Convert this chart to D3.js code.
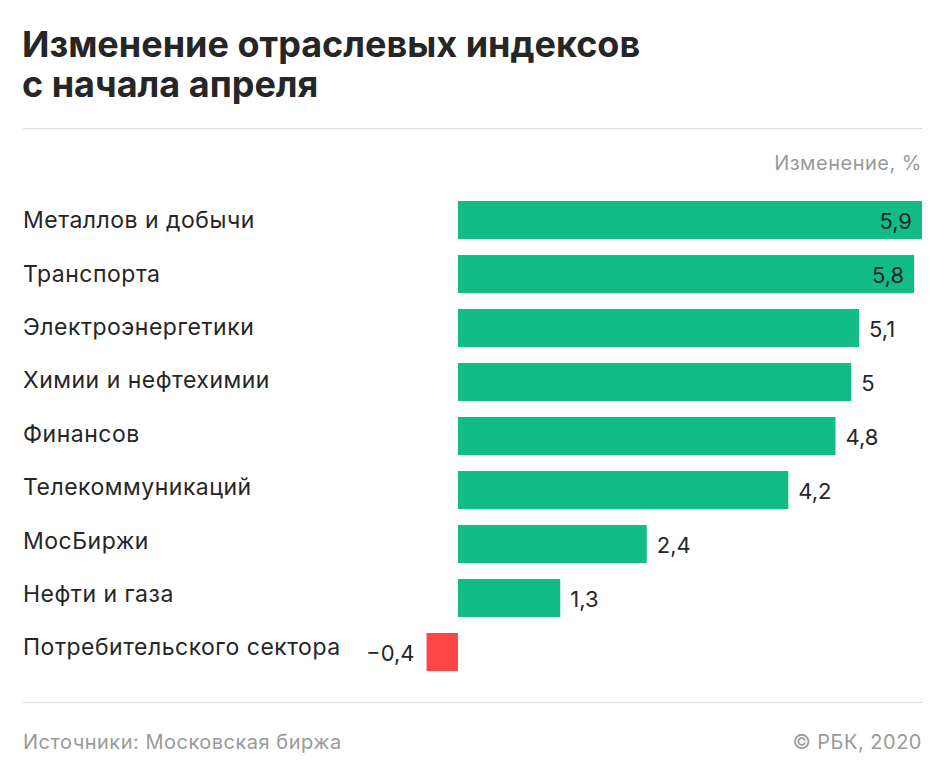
<!DOCTYPE html>
<html><head><meta charset="utf-8">
<script src="https://cdn.jsdelivr.net/npm/d3@7"></script>
<style>body{margin:0;background:#fff}svg{display:block}</style>
</head><body>
<script>
const categories = ["Металлов и добычи","Транспорта","Электроэнергетики","Химии и нефтехимии","Финансов","Телекоммуникаций","МосБиржи","Нефти и газа","Потребительского сектора"];
const values = [5.9,5.8,5.1,5,4.8,4.2,2.4,1.3,-0.4];
const titleLines = ["Изменение отраслевых индексов","с начала апреля"];
const unitLabel = "Изменение, %";
const sourceText = "Источники: Московская биржа";
const creditText = "© РБК, 2020";

const W=945,H=781;
const svg=d3.select("body").append("svg").attr("width",W).attr("height",H);
const fmt = v => (v<0?"\u2212":"") + String(Math.abs(v)).replace(".",",");

svg.selectAll("text.title").data(titleLines).join("text").attr("class","title")
  .attr("x",22).attr("y",(d,i)=>57+i*40)
  .attr("font-family","Inter").attr("font-weight",700).attr("font-size",36)
  .attr("fill","#262626").text(d=>d);

svg.append("line").attr("x1",23).attr("x2",922).attr("y1",128.5).attr("y2",128.5).attr("stroke","#dcdcdc");
svg.append("line").attr("x1",23).attr("x2",922).attr("y1",702.5).attr("y2",702.5).attr("stroke","#dcdcdc");

svg.append("text").attr("x",922).attr("y",170).attr("text-anchor","end")
  .attr("font-family","Inter").attr("font-size",20).attr("letter-spacing",0.5).attr("fill","#9a9a9a").text(unitLabel);

const x=d3.scaleLinear().domain([0,5.9]).range([458,922]);
const y=d3.scaleBand().domain(categories).range([193,679]).paddingInner(16/54).paddingOuter(8/54);
const yLabel=d3.scalePoint().domain(categories).range([220,647]);

const g=svg.append("g");
g.selectAll("rect").data(values).join("rect")
  .attr("x",d=>x(Math.min(0,d))).attr("width",d=>Math.abs(x(d)-x(0)))
  .attr("y",(d,i)=>y(categories[i])).attr("height",y.bandwidth())
  .attr("fill",d=>d<0?"#ff4646":"#12bc87");

g.selectAll("text.cat").data(categories).join("text").attr("class","cat")
  .attr("x",23).attr("y",d=>yLabel(d)).attr("dy","0.36em")
  .attr("font-family","Inter").attr("font-size",23).attr("letter-spacing",0.5).attr("fill","#262626").text(d=>d);

g.selectAll("text.val").data(values).join("text").attr("class","val")
  .attr("x",(d,i)=> i<2 ? x(d)-10 : d<0 ? x(d)-12 : x(d)+10)
  .attr("text-anchor",(d,i)=> i<2 || d<0 ? "end":"start")
  .attr("y",(d,i)=>y(categories[i])+y.bandwidth()/2+1).attr("dy","0.36em")
  .attr("font-family","Inter").attr("font-size",22).attr("fill","#262626").text(fmt);

svg.append("text").attr("x",23).attr("y",749)
  .attr("font-family","Inter").attr("font-size",20).attr("letter-spacing",0.5).attr("fill","#9a9a9a").text(sourceText);
svg.append("text").attr("x",922).attr("y",749).attr("text-anchor","end")
  .attr("font-family","Inter").attr("font-size",20).attr("letter-spacing",0.5).attr("fill","#9a9a9a").text(creditText);
</script>
</body></html>
